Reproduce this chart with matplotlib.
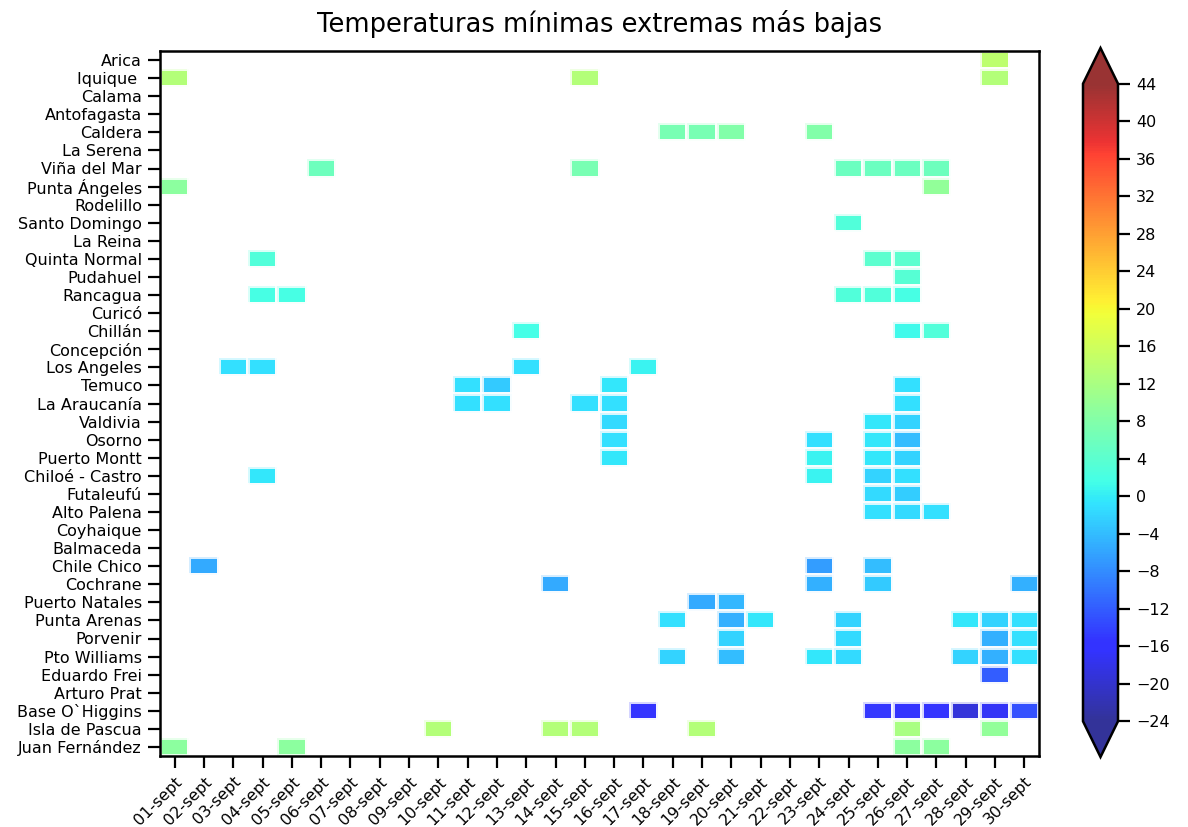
import numpy as np
import matplotlib
matplotlib.use("Agg")
import matplotlib.pyplot as plt

# Estaciones de norte a sur (orden del eje y)
estaciones = [
    "Arica", "Iquique ", "Calama", "Antofagasta", "Caldera", "La Serena",
    "Viña del Mar", "Punta Ángeles", "Rodelillo", "Santo Domingo", "La Reina",
    "Quinta Normal", "Pudahuel", "Rancagua", "Curicó", "Chillán", "Concepción",
    "Los Angeles", "Temuco", "La Araucanía", "Valdivia", "Osorno",
    "Puerto Montt", "Chiloé - Castro", "Futaleufú", "Alto Palena", "Coyhaique",
    "Balmaceda", "Chile Chico", "Cochrane", "Puerto Natales", "Punta Arenas",
    "Porvenir", "Pto Williams", "Eduardo Frei", "Arturo Prat", "Base O`Higgins",
    "Isla de Pascua", "Juan Fernández",
]

dias = [f"{d:02d}-sept" for d in range(1, 31)]

# Registros de mínimas extremas: estación, día del mes, temperatura (°C)
celda_estacion = (
    ["Arica"]
    + ["Iquique "] * 3
    + ["Caldera"] * 4
    + ["Viña del Mar"] * 6
    + ["Punta Ángeles"] * 2
    + ["Santo Domingo"]
    + ["Quinta Normal"] * 3
    + ["Pudahuel"]
    + ["Rancagua"] * 5
    + ["Chillán"] * 3
    + ["Los Angeles"] * 4
    + ["Temuco"] * 4
    + ["La Araucanía"] * 5
    + ["Valdivia"] * 3
    + ["Osorno"] * 4
    + ["Puerto Montt"] * 4
    + ["Chiloé - Castro"] * 4
    + ["Futaleufú"] * 2
    + ["Alto Palena"] * 3
    + ["Chile Chico"] * 3
    + ["Cochrane"] * 4
    + ["Puerto Natales"] * 2
    + ["Punta Arenas"] * 7
    + ["Porvenir"] * 4
    + ["Pto Williams"] * 7
    + ["Eduardo Frei"]
    + ["Base O`Higgins"] * 7
    + ["Isla de Pascua"] * 6
    + ["Juan Fernández"] * 4
)
celda_dia = [
    29,
    1, 15, 29,
    18, 19, 20, 23,
    6, 15, 24, 25, 26, 27,
    1, 27,
    24,
    4, 25, 26,
    26,
    4, 5, 24, 25, 26,
    13, 26, 27,
    3, 4, 13, 17,
    11, 12, 16, 26,
    11, 12, 15, 16, 26,
    16, 25, 26,
    16, 23, 25, 26,
    16, 23, 25, 26,
    4, 23, 25, 26,
    25, 26,
    25, 26, 27,
    2, 23, 25,
    14, 23, 25, 30,
    19, 20,
    18, 20, 21, 24, 28, 29, 30,
    20, 24, 29, 30,
    18, 20, 23, 24, 28, 29, 30,
    29,
    17, 25, 26, 27, 28, 29, 30,
    10, 14, 15, 19, 26, 29,
    1, 5, 26, 27,
]
celda_temp = [
    14.0,
    13.0, 13.0, 13.0,
    7.0, 7.0, 8.0, 8.0,
    6.0, 7.0, 5.5, 5.5, 5.5, 6.0,
    9.0, 9.5,
    3.0,
    3.0, 4.0, 4.0,
    3.5,
    2.0, 2.0, 3.0, 3.0, 2.0,
    1.5, 1.0, 3.0,
    -1.0, -1.0, -1.0, 0.5,
    -1.0, -3.0, -0.5, -1.0,
    -1.0, -1.0, -1.0, -1.0, -1.0,
    -1.5, -0.5, -2.0,
    -1.0, -1.0, -0.5, -4.0,
    -0.5, 0.5, -0.5, -2.0,
    -0.5, 0.5, -2.0, -1.0,
    -1.5, -2.5,
    -1.0, -1.5, -1.0,
    -5.5, -6.5, -4.0,
    -5.5, -5.0, -3.0, -5.0,
    -5.5, -4.5,
    -1.0, -5.0, -0.5, -2.0, -0.5, -2.0, -1.0,
    -2.0, -1.5, -5.0, -1.0,
    -2.0, -4.0, -0.5, -1.5, -2.0, -5.0, -1.0,
    -12.0,
    -16.0, -15.0, -16.0, -16.5, -19.0, -17.0, -13.0,
    13.0, 13.0, 13.0, 13.0, 12.0, 9.5,
    9.0, 9.0, 9.0, 9.0,
]

# Matriz estación x día, vacía donde no hubo récord
tabla = np.full((len(estaciones), len(dias)), np.nan)
for est, dia, temp in zip(celda_estacion, celda_dia, celda_temp):
    tabla[estaciones.index(est), dia - 1] = temp
tabla = np.ma.masked_invalid(tabla)

fig = plt.figure(figsize=(11.88, 8.27), dpi=100)
ax = fig.add_axes([160 / 1188, 71 / 827, 879 / 1188, 705 / 827])
cax = fig.add_axes([1083 / 1188, 70 / 827, 35 / 1188, 709 / 827])

x_bordes = np.arange(len(dias) + 1) - 0.5
y_bordes = np.arange(len(estaciones) + 1) - 0.5
malla = ax.pcolormesh(x_bordes, y_bordes, tabla, cmap="jet", vmin=-24, vmax=44,
                      alpha=0.8, edgecolors="white", linewidth=1.5)

ax.set_xlim(-0.5, len(dias) - 0.5)
ax.set_ylim(len(estaciones) - 0.5, -0.5)
ax.set_xticks(np.arange(len(dias)))
ax.set_xticklabels(dias, rotation=45, ha="right", rotation_mode="anchor", fontsize=11.5)
ax.set_yticks(np.arange(len(estaciones)))
ax.set_yticklabels(estaciones, fontsize=11.5)
ax.tick_params(axis="both", length=8.5, width=1.6, pad=4.5)
for lado in ax.spines.values():
    lado.set_linewidth(1.8)
ax.set_title("Temperaturas mínimas extremas más bajas", fontsize=18.5, pad=14)

cbar = fig.colorbar(malla, cax=cax, extend="both", extendfrac=0.056,
                    ticks=np.arange(-24, 45, 4))
cbar.ax.tick_params(labelsize=11.5, length=8.5, width=1.6, pad=4.5)
cbar.outline.set_linewidth(1.8)

fig.savefig("out.png", dpi=100)
